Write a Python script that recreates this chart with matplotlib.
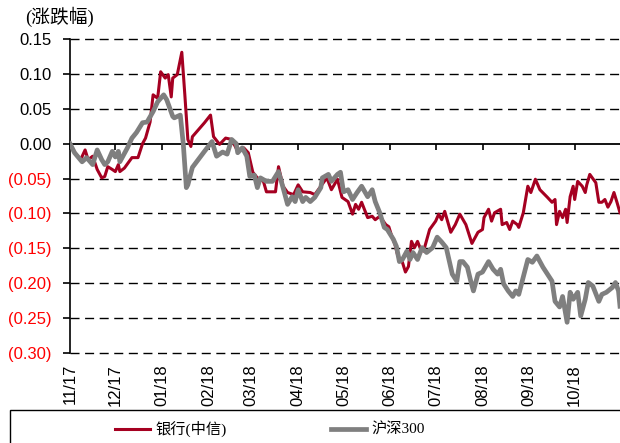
import numpy as np
import matplotlib.pyplot as plt
from matplotlib.patches import Rectangle

plt.rcParams['font.family'] = ['Liberation Sans', 'Noto Sans CJK SC']
cjk_serif = ['Liberation Serif', 'Noto Sans CJK SC']

# x = calendar days since 2017-11-01
start = np.datetime64('2017-11-01')
month_starts = np.arange('2017-11', '2018-11', dtype='datetime64[M]')
tick_days = (month_starts.astype('datetime64[D]') - start).astype(int)
tick_labels = [m.astype(object).strftime('%m/%y') for m in month_starts]

bank_days = [0, 3, 7, 10, 12, 15, 18, 21, 23, 25, 28, 30, 32, 33, 36, 41, 45, 48,
             50, 53, 55, 58, 60, 63, 65, 67, 68, 71, 74, 76, 78, 80, 81, 89, 93, 95,
             99, 103, 107, 111, 115, 118, 121, 124, 128, 130, 136, 138, 141, 144,
             148, 151, 154, 159, 162, 166, 170, 173, 177, 180, 184, 187, 189, 191,
             193, 197, 200, 202, 205, 209, 211, 213, 215, 217, 220, 222, 224, 226,
             228, 230, 232, 234, 238, 242, 244, 246, 248, 252, 255, 258, 262, 266,
             270, 273, 274, 277, 279, 281, 285, 286, 289, 291, 293, 296, 297, 300,
             303, 305, 308, 311, 316, 319, 321, 322, 324, 326, 328, 329, 331, 333,
             334, 336, 339, 341, 342, 344, 348, 350, 352, 354, 356, 358, 360, 362, 364]
bank_vals = [0.000, -0.012, -0.023, -0.009, -0.023, -0.018, -0.037, -0.049, -0.047,
             -0.033, -0.037, -0.040, -0.030, -0.040, -0.035, -0.020, -0.020, 0.000,
             0.008, 0.031, 0.070, 0.065, 0.103, 0.094, 0.099, 0.067, 0.094, 0.099,
             0.131, 0.070, 0.006, -0.004, 0.010, 0.030, 0.041, 0.010, -0.001, 0.008,
             0.006, -0.011, -0.006, -0.013, -0.041, -0.049, -0.054, -0.069, -0.069,
             -0.033, -0.061, -0.070, -0.073, -0.059, -0.069, -0.070, -0.073, -0.061,
             -0.049, -0.066, -0.051, -0.077, -0.083, -0.101, -0.087, -0.094, -0.084,
             -0.106, -0.104, -0.109, -0.104, -0.116, -0.119, -0.133, -0.144, -0.161,
             -0.170, -0.184, -0.176, -0.140, -0.149, -0.140, -0.151, -0.154, -0.123,
             -0.111, -0.101, -0.109, -0.097, -0.127, -0.116, -0.101, -0.116, -0.143,
             -0.127, -0.123, -0.106, -0.094, -0.111, -0.099, -0.094, -0.116, -0.113,
             -0.123, -0.111, -0.116, -0.120, -0.099, -0.061, -0.070, -0.051, -0.066,
             -0.077, -0.084, -0.080, -0.116, -0.097, -0.106, -0.094, -0.113, -0.076,
             -0.061, -0.080, -0.054, -0.061, -0.070, -0.059, -0.044, -0.056, -0.084,
             -0.084, -0.080, -0.091, -0.083, -0.070, -0.084, -0.099]

hs300_days = [0, 3, 8, 11, 15, 18, 21, 23, 25, 28, 30, 32, 33, 38, 41, 44, 48, 51,
              55, 58, 62, 64, 68, 69, 73, 75, 77, 78, 81, 89, 94, 97, 101, 104, 107,
              110, 111, 114, 117, 119, 122, 124, 126, 130, 134, 138, 141, 144, 147,
              149, 151, 154, 156, 159, 162, 166, 167, 171, 173, 177, 179, 181, 184,
              187, 190, 193, 197, 200, 202, 205, 208, 210, 214, 216, 218, 220, 223,
              225, 227, 230, 233, 236, 240, 243, 246, 249, 252, 253, 256, 258, 260,
              263, 265, 267, 270, 273, 277, 280, 283, 285, 287, 290, 293, 295, 297,
              300, 303, 306, 309, 313, 319, 321, 324, 326, 329, 331, 333, 336, 338,
              341, 343, 346, 350, 352, 355, 359, 361, 363, 364]
hs300_vals = [0.000, -0.013, -0.026, -0.020, -0.030, -0.009, -0.023, -0.030, -0.026,
              -0.011, -0.019, -0.011, -0.026, -0.006, 0.008, 0.016, 0.030, 0.031,
              0.046, 0.060, 0.070, 0.063, 0.039, 0.037, 0.041, -0.001, -0.063, -0.059,
              -0.034, -0.011, 0.003, -0.018, -0.012, -0.015, 0.006, 0.000, -0.013,
              -0.006, -0.018, -0.047, -0.045, -0.063, -0.049, -0.054, -0.054, -0.040,
              -0.063, -0.087, -0.076, -0.083, -0.066, -0.083, -0.077, -0.083, -0.077,
              -0.063, -0.049, -0.044, -0.054, -0.044, -0.041, -0.069, -0.066, -0.080,
              -0.070, -0.061, -0.076, -0.066, -0.083, -0.099, -0.120, -0.123, -0.137,
              -0.147, -0.169, -0.166, -0.154, -0.166, -0.156, -0.166, -0.149, -0.156,
              -0.149, -0.134, -0.141, -0.149, -0.177, -0.187, -0.197, -0.169, -0.169,
              -0.177, -0.195, -0.211, -0.187, -0.184, -0.169, -0.180, -0.187, -0.180,
              -0.201, -0.211, -0.219, -0.211, -0.216, -0.191, -0.166, -0.170, -0.161,
              -0.177, -0.197, -0.226, -0.234, -0.219, -0.256, -0.213, -0.223, -0.213,
              -0.247, -0.223, -0.199, -0.204, -0.226, -0.216, -0.213, -0.206, -0.199,
              -0.211, -0.233]

yticks = [0.15, 0.10, 0.05, 0.00, -0.05, -0.10, -0.15, -0.20, -0.25, -0.30]
ylabels = ['%.2f' % v if v >= 0 else '(%.2f)' % -v for v in yticks]

fig = plt.figure(figsize=(6.2, 4.43), dpi=100)
ax = fig.add_axes([70 / 620, 1 - 353 / 443, 550 / 620, 314 / 443])

for v in yticks:
    if v != 0:
        ax.axhline(v, color='black', lw=1.0, ls=(0, (6.5, 4)), clip_on=False, zorder=1)

ax.plot(bank_days, bank_vals, color='#a50021', lw=2.2, label='银行(中信)',
        solid_joinstyle='round', zorder=3)
ax.plot(hs300_days, hs300_vals, color='#7f7f7f', lw=3.4, label='沪深300',
        solid_joinstyle='round', zorder=4)

ax.set_xlim(0, 364)
ax.set_ylim(-0.30, 0.15)
ax.set_yticks(yticks, ylabels)
for lab, v in zip(ax.get_yticklabels(), yticks):
    lab.set_color('black' if v >= 0 else '#ff0000')
ax.tick_params(axis='y', direction='out', length=5, width=1.2, pad=8.5, labelsize=12)

ax.spines['top'].set_visible(False)
ax.spines['right'].set_visible(False)
ax.spines['left'].set_linewidth(1.2)
ax.spines['bottom'].set_position(('data', 0))
ax.spines['bottom'].set_linewidth(1.3)
ax.spines['bottom'].set_zorder(2)
ax.set_xticks(tick_days)
ax.tick_params(axis='x', direction='out', length=4, width=1.2, labelbottom=False)

sec = ax.secondary_xaxis('bottom')
sec.set_xticks(tick_days, tick_labels, rotation=90)
sec.tick_params(length=0, pad=8, labelsize=12)
sec.spines['bottom'].set_visible(False)

fig.text(25 / 620, 1 - 17 / 443, '(涨跌幅)', fontsize=13.5, va='center',
         family=cjk_serif)

fig.legend(loc='center', bbox_to_anchor=(270 / 620, 1 - 429 / 443), ncol=2,
           frameon=False, prop={'family': cjk_serif, 'size': 11},
           handlelength=2.3, handletextpad=0.35, columnspacing=6.8)
fig.add_artist(Rectangle((10 / 620, -0.05), 1.0, 0.05 + 1 - 410 / 443,
                         transform=fig.transFigure, fill=False,
                         edgecolor='black', lw=1.0))

fig.savefig('out.png', dpi=100)
